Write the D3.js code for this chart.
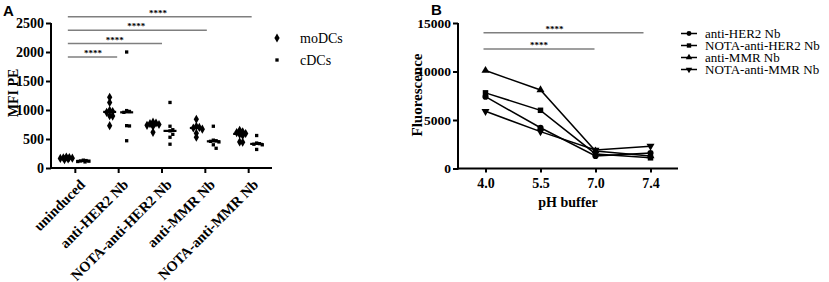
<!DOCTYPE html>
<html>
<head>
<meta charset="utf-8">
<script src="https://cdn.jsdelivr.net/npm/d3@7"></script>
<style>
  body { margin: 0; background: #fff; }
  svg { display: block; }
  .axis path, .axis line { stroke: #000; stroke-width: 2; }
  .axis text { font-family: "Liberation Serif", Tinos, "Times New Roman", Times, "DejaVu Serif", serif; font-weight: bold; font-size: 14px; fill: #000; }
</style>
</head>
<body>
<div id="chart"></div>
<script>
// ---- panel A data ----
var aCats = ["uninduced", "anti-HER2 Nb", "NOTA-anti-HER2 Nb", "anti-MMR Nb", "NOTA-anti-MMR Nb"];
var moDCs = [
  [190, 180, 175, 170, 165, 155, 145],
  [1220, 1130, 995, 975, 960, 900, 895, 730],
  [790, 775, 765, 750, 735, 720, 615],
  [840, 720, 700, 690, 670, 600, 530],
  [650, 625, 610, 595, 580, 560, 450, 445]
];
var cDCs = [
  [135, 128, 122, 118, 112, 105],
  [2000, 990, 975, 960, 730, 725, 470],
  [1130, 720, 660, 640, 580, 530, 410],
  [720, 480, 470, 460, 450, 400, 340],
  [560, 430, 420, 410, 400, 320]
];
var aTicks = [0, 500, 1000, 1500, 2000, 2500];
var aSeries = ["moDCs", "cDCs"];
// comparisons vs uninduced, bottom to top
var sigA = [
  {from: "uninduced", to: "anti-HER2 Nb", label: "****"},
  {from: "uninduced", to: "NOTA-anti-HER2 Nb", label: "****"},
  {from: "uninduced", to: "anti-MMR Nb", label: "****"},
  {from: "uninduced", to: "NOTA-anti-MMR Nb", label: "****"}
];

// ---- panel B data ----
var phCats = ["4.0", "5.5", "7.0", "7.4"];
var bSeries = ["anti-HER2 Nb", "NOTA-anti-HER2 Nb", "anti-MMR Nb", "NOTA-anti-MMR Nb"];
var antiHER2 = [7400, 4200, 1300, 1600];
var notaHER2 = [7800, 6000, 1500, 1100];
var antiMMR = [10100, 8100, 1800, 1300];
var notaMMR = [5900, 3800, 1900, 2300];
var bTicks = [0, 5000, 10000, 15000];
var sigB = [
  {from: "4.0", to: "7.0", label: "****"},
  {from: "4.0", to: "7.4", label: "****"}
];

var W = 829, H = 282;
var serif = "'Liberation Serif', Tinos, 'Times New Roman', Times, 'DejaVu Serif', serif";

var svg = d3.select("#chart").append("svg")
    .attr("width", W)
    .attr("height", H);
svg.append("rect").attr("width", W).attr("height", H).attr("fill", "#fff");

// panel letters
svg.append("text").attr("x", 3).attr("y", 16)
  .style("font-family", "'Liberation Sans', Arial, sans-serif").style("font-weight", "bold").style("font-size", "15px")
  .text("A");
svg.append("text").attr("x", 431).attr("y", 15)
  .style("font-family", "'Liberation Sans', Arial, sans-serif").style("font-weight", "bold").style("font-size", "15px")
  .text("B");

//===================== PANEL A =====================
var xA = d3.scalePoint().domain(aCats).range([51, 272]).padding(0.55);
var yA = d3.scaleLinear().domain([0, 2500]).range([168, 23]);
var gOff = d3.scalePoint().domain(aSeries).range([-8.5, 8.5]);

var gA = svg.append("g");

gA.append("g").attr("class", "axis")
  .attr("transform", "translate(51,0)")
  .call(d3.axisLeft(yA).tickValues(aTicks).tickSize(5).tickSizeOuter(0).tickPadding(2).tickFormat(d3.format("d")))
  .select(".domain").attr("d", "M0," + (yA(0) + 1) + "V" + yA(2500));

var xAxA = gA.append("g").attr("class", "axis")
  .attr("transform", "translate(0,168)")
  .call(d3.axisBottom(xA).tickSize(5).tickSizeOuter(0));
xAxA.select(".domain").attr("d", "M51,0H272");
xAxA.selectAll("text")
  .attr("text-anchor", "end")
  .attr("dy", 0)
  .attr("transform", "translate(5,12) rotate(-45)")
  .style("font-size", "14.5px");

gA.append("text")
  .attr("transform", "translate(18,93) rotate(-90)")
  .attr("text-anchor", "middle")
  .style("font-family", serif).style("font-weight", "bold").style("font-size", "14px")
  .text("MFI PE");

// compact beeswarm: tied points spread sideways a little, overlapping like the original
function swarm(vals, step, maxK) {
  var placed = [];
  return vals.map(function(v) {
    var py = yA(v), k = 0, dx = 0;
    for (k = 0; k <= maxK; k++) {
      dx = (k % 2 ? 1 : -1) * Math.ceil(k / 2) * step;
      var hit = placed.some(function(p) {
        return Math.abs(p.x - dx) < step && Math.abs(p.y - py) < 3.5;
      });
      if (!hit) break;
    }
    if (k > maxK) dx = ((placed.length % 3) - 1) * step * 0.6;
    placed.push({x: dx, y: py});
    return {v: v, dx: dx};
  });
}

var symA = {
  moDCs: d3.symbol().type(d3.symbolDiamond).size(24),
  cDCs: d3.symbol().type(d3.symbolSquare).size(11)
};

aSeries.forEach(function(s) {
  var sets = s === "moDCs" ? moDCs : cDCs;
  sets.forEach(function(vals, ci) {
    var cx = xA(aCats[ci]) + gOff(s);
    var pts = swarm(vals, s === "moDCs" ? 3 : 2.8, 4);
    gA.selectAll(null).data(pts).enter().append("path")
      .attr("d", symA[s]())
      .attr("transform", function(d) { return "translate(" + (cx + d.dx) + "," + yA(d.v) + ")"; })
      .attr("fill", "#000");
    var med = d3.median(vals);
    gA.append("line")
      .attr("x1", cx - 6.5).attr("x2", cx + 6.5)
      .attr("y1", yA(med)).attr("y2", yA(med))
      .attr("stroke", "#000").attr("stroke-width", 2.2);
  });
});

// significance bars
sigA.forEach(function(d, i) {
  var yy = 57 - i * 13.4;
  var x1 = xA(d.from) - 7, x2 = xA(d.to) + i * 1.5 - 1;
  gA.append("line").attr("x1", x1).attr("x2", x2).attr("y1", yy).attr("y2", yy)
    .attr("stroke", "#7f7f7f").attr("stroke-width", 1.5);
  gA.append("text").attr("x", (x1 + xA(d.to)) / 2).attr("y", yy - 1)
    .attr("text-anchor", "middle")
    .style("font-family", serif).style("font-weight", "bold").style("font-size", "9px")
    .text(d.label);
});

// legend A
var legA = gA.selectAll(".legA").data(aSeries).enter().append("g")
  .attr("transform", function(d, i) { return "translate(277," + (38 + i * 22) + ")"; });
legA.append("path").attr("d", function(d) { return symA[d](); }).attr("fill", "#000");
legA.append("text").attr("x", 23).attr("y", 5)
  .style("font-family", serif).style("font-size", "14px")
  .text(function(d) { return d; });

//===================== PANEL B =====================
var xB = d3.scalePoint().domain(phCats).range([458, 678]).padding(0.5);
var yB = d3.scaleLinear().domain([0, 15000]).range([168.5, 23]);

var gB = svg.append("g");

var yAxB = gB.append("g").attr("class", "axis")
  .attr("transform", "translate(458,0)")
  .call(d3.axisLeft(yB).tickValues(bTicks).tickSize(5).tickSizeOuter(0).tickPadding(2).tickFormat(d3.format("d")));
yAxB.select(".domain").attr("d", "M0," + (yB(0) + 1) + "V" + yB(15000));
yAxB.selectAll("text").style("font-size", "13.5px");

var xAxB = gB.append("g").attr("class", "axis")
  .attr("transform", "translate(0,168.5)")
  .call(d3.axisBottom(xB).tickSize(4).tickSizeOuter(0).tickPadding(6));
xAxB.select(".domain").attr("d", "M458,0H678");

gB.append("text")
  .attr("x", 568).attr("y", 207)
  .attr("text-anchor", "middle")
  .style("font-family", serif).style("font-weight", "bold").style("font-size", "14px")
  .text("pH buffer");

gB.append("text")
  .attr("transform", "translate(422,95) rotate(-90)")
  .attr("text-anchor", "middle")
  .style("font-family", serif).style("font-weight", "bold").style("font-size", "15px")
  .text("Fluorescence");

var bData = [antiHER2, notaHER2, antiMMR, notaMMR];
var bSym = [
  d3.symbol().type(d3.symbolCircle).size(30),
  d3.symbol().type(d3.symbolSquare).size(30),
  d3.symbol().type(d3.symbolTriangle).size(28),
  d3.symbol().type(d3.symbolTriangle).size(28)
];
var bRot = [0, 0, 0, 180];

var line = d3.line()
  .x(function(d, i) { return xB(phCats[i]); })
  .y(function(d) { return yB(d); });

bData.forEach(function(vals, si) {
  gB.append("path").datum(vals)
    .attr("d", line)
    .attr("fill", "none")
    .attr("stroke", "#000")
    .attr("stroke-width", 1.5);
  gB.selectAll(null).data(vals).enter().append("path")
    .attr("d", bSym[si]())
    .attr("transform", function(d, i) {
      return "translate(" + xB(phCats[i]) + "," + yB(d) + ") rotate(" + bRot[si] + ")";
    })
    .attr("fill", "#000");
});

sigB.forEach(function(d, i) {
  var yy = 49 - i * 16.3;
  var x1 = xB(d.from) - 2, x2 = xB(d.to) - (i ? 7 : 1);
  gB.append("line").attr("x1", x1).attr("x2", x2).attr("y1", yy).attr("y2", yy)
    .attr("stroke", "#7f7f7f").attr("stroke-width", 1.5);
  gB.append("text").attr("x", (x1 + x2) / 2 - (i ? 9 : 0)).attr("y", yy - 1)
    .attr("text-anchor", "middle")
    .style("font-family", serif).style("font-weight", "bold").style("font-size", "9px")
    .text(d.label);
});

// legend B
var legB = gB.selectAll(".legB").data(bSeries).enter().append("g")
  .attr("transform", function(d, i) { return "translate(689," + (33.5 + i * 12) + ")"; });
legB.append("line").attr("x1", -8).attr("x2", 8).attr("stroke", "#000").attr("stroke-width", 1.5);
legB.append("path")
  .attr("d", function(d, i) { return bSym[i](); })
  .attr("transform", function(d, i) { return "rotate(" + bRot[i] + ") scale(0.8)"; })
  .attr("fill", "#000");
legB.append("text").attr("x", 16).attr("y", 4.5)
  .style("font-family", serif).style("font-size", "13px")
  .text(function(d) { return d; });
</script>
</body>
</html>
